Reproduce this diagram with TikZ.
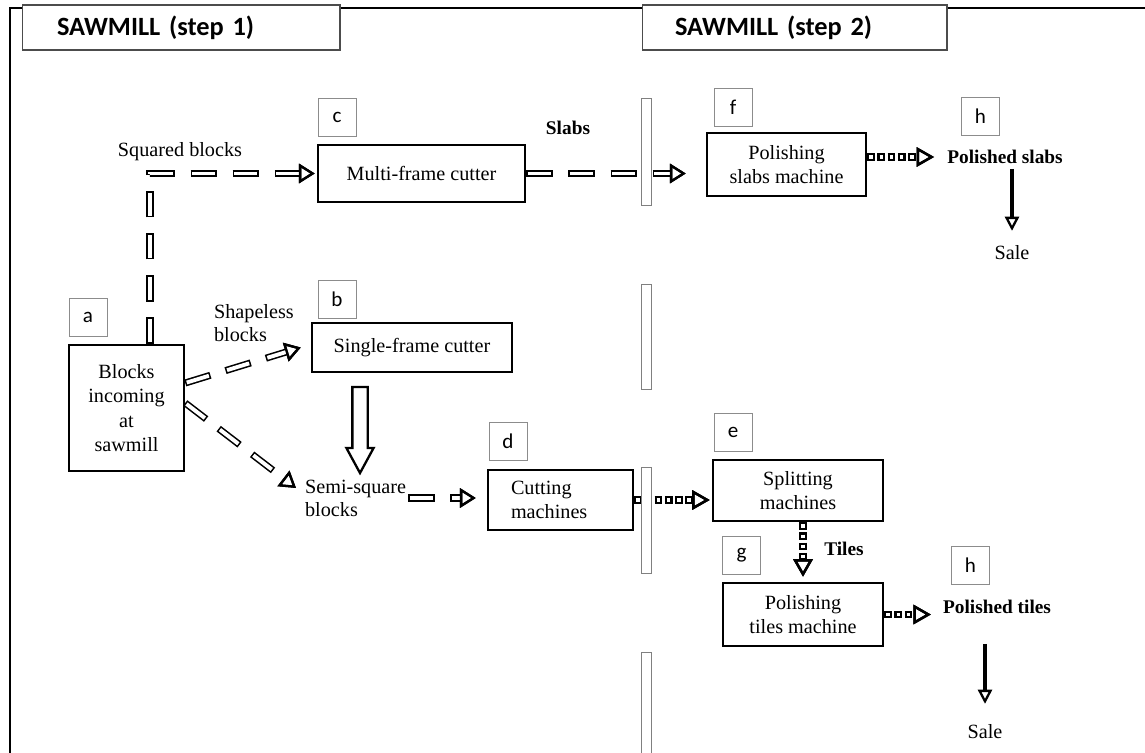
\documentclass[tikz,border=0pt]{standalone}
\usepackage{fontspec}
\setmainfont{Liberation Serif}
\newfontfamily\calibri{Carlito}
\usetikzlibrary{positioning, arrows.meta, shapes.arrows}

\tikzset{
  box/.style={draw, line width=1.4pt, align=center, font=\fontsize{11.5}{14}\selectfont},
  tag/.style={draw=black!45, line width=0.5pt, minimum size=0.76cm, inner sep=0pt, font=\calibri\fontsize{12}{14}\selectfont},
  lbl/.style={inner sep=1pt, align=left, font=\fontsize{11.5}{13}\selectfont},
  blbl/.style={inner sep=1pt, font=\bfseries\fontsize{11}{13}\selectfont},
  heading/.style={draw=black!70, fill=white, line width=0.6pt, minimum height=0.9cm, align=left, font=\calibri\bfseries\fontsize{15}{17}\selectfont},
  divider/.style={draw=black!50, fill=white, line width=0.4pt},
  % hollow dashes: black pass, then a white pass inside it
  hollow/.style={line width=4pt, dash pattern=on 15pt off 9pt,
    -{Triangle[open, color=black, line width=1.3pt, length=9pt, width=11pt]},
    postaction={draw=white, line width=2.2pt, dash pattern=on 13.2pt off 10.8pt, dash phase=23.1pt}},
  dotty/.style={line width=4.4pt, dash pattern=on 4.4pt off 1.4pt,
    -{Triangle[open, color=black, line width=1.4pt, length=10pt, width=11pt]},
    postaction={draw=white, line width=2pt, dash pattern=on 2pt off 3.8pt, dash phase=4.6pt}},
  salearr/.style={line width=2.4pt, -{Triangle[open, line width=1.3pt, length=8pt, width=8pt]}},
  bigarrow/.style={draw, line width=1.3pt, fill=white, single arrow, single arrow head extend=0.12cm,
    single arrow tip angle=57, inner sep=0.13cm, minimum height=1.72cm, minimum width=0.5cm, rotate=-90}
}

\begin{document}
\begin{tikzpicture}[x=0.02cm, y=-0.02cm]
  \useasboundingbox (0,0) rectangle (1145,753);

  % machines
  \node[box, minimum width=2.3cm, minimum height=2.52cm] (a) at (126.5,408) {Blocks\\incoming\\at\\sawmill};
  \node[box, minimum width=4.14cm, minimum height=1.14cm] (multi) at (421.5,173.5) {Multi-frame cutter};
  \node[box, minimum width=4cm, minimum height=0.98cm] (single) at (412,347.5) {Single-frame cutter};
  \node[box, minimum width=2.9cm, minimum height=1.2cm, text width=1.98cm, align=left] (cutting) at (560.5,500) {Cutting\\machines};
  \node[box, minimum width=3.18cm, minimum height=1.26cm] (polslabs) at (786.5,164.5) {Polishing\\slabs machine};
  \node[box, minimum width=3.4cm, minimum height=1.22cm] (splitting) at (798,490.5) {Splitting\\machines};
  \node[box, minimum width=3.2cm, minimum height=1.26cm] (poltiles) at (803,614.5) {Polishing\\tiles machine};

  % letter tags
  \node[tag] (taga) at (88,317) {a};
  \node[tag] (tagb) at (337,299) {b};
  \node[tag] (tagc) at (337,117) {c};
  \node[tag] (tagd) at (508,441) {d};
  \node[tag] (tage) at (733,432) {e};
  \node[tag] (tagf) at (733,107) {f};
  \node[tag] (tagg) at (741.5,555.5) {g};
  \node[tag] (taghs) at (980.5,116.5) {h};
  \node[tag] (taght) at (970.5,565.5) {h};

  % texts
  \node[lbl] (squared) at (180,152) {Squared blocks};
  \node[lbl, anchor=west] (shapeless) at (212,323) {Shapeless\\blocks};
  \node[lbl, anchor=west] (semi) at (303,498) {Semi-square\\blocks};
  \node[blbl] (slabs) at (568,128) {Slabs};
  \node[blbl] (tiles) at (844,549) {Tiles};
  \node[blbl] (pslabs) at (1005,157) {Polished slabs};
  \node[blbl] (ptiles) at (997,607) {Polished tiles};
  \node[lbl] (sale1) at (1012,253) {Sale};
  \node[lbl] (sale2) at (985,732) {Sale};

  % flows
  \draw[hollow] ([xshift=0.47cm]a.north) |- ([xshift=-0.04cm]multi.west);
  \draw[hollow] ([yshift=0.5cm]a.east) -- ([xshift=-0.2cm]single.west);
  \draw[hollow] ([yshift=0.1cm]a.east) -- ([xshift=-0.14cm, yshift=0.2cm]semi.west);
  \node[bigarrow] (drop) at (360,423) {};
  \draw[hollow] (semi.east) -- ([xshift=-0.22cm]semi.east -| cutting.west);
  \draw[hollow] (multi.east) -- ([xshift=-0.4cm]multi.east -| polslabs.west);
  \draw[dotty] (polslabs.east |- pslabs.west) -- ([xshift=-0.22cm]pslabs.west);
  \draw[salearr, shorten <=0.06cm, shorten >=0.26cm] (pslabs.south -| sale1.north) -- (sale1.north);
  \draw[dotty] (cutting.east) -- ([xshift=-0.04cm]cutting.east -| splitting.west);
  \draw[dotty] (poltiles.north |- splitting.south) -- ([yshift=0.1cm]poltiles.north);
  \draw[dotty] (poltiles.east) -- ([xshift=-0.2cm]poltiles.east -| ptiles.west);
  \draw[salearr, shorten <=0.56cm, shorten >=0.38cm] (ptiles.south -| sale2.north) -- (sale2.north);

  % step boundary
  \foreach \ya/\yb in {98/205, 284/389, 467/573, 652/753}
    \draw[divider] (641,\ya) rectangle (651,\yb);

  % frame and headings
  \draw[line width=1.2pt] (10,753) -- (10,8) -- (1145,8);
  \node[heading, text width=4.96cm, inner xsep=0.7cm] (step1) at (181,27.5) {SAWMILL (step 1)};
  \node[heading, text width=4.78cm, inner xsep=0.66cm] (step2) at (794.5,27.5) {SAWMILL (step 2)};
\end{tikzpicture}
\end{document}
